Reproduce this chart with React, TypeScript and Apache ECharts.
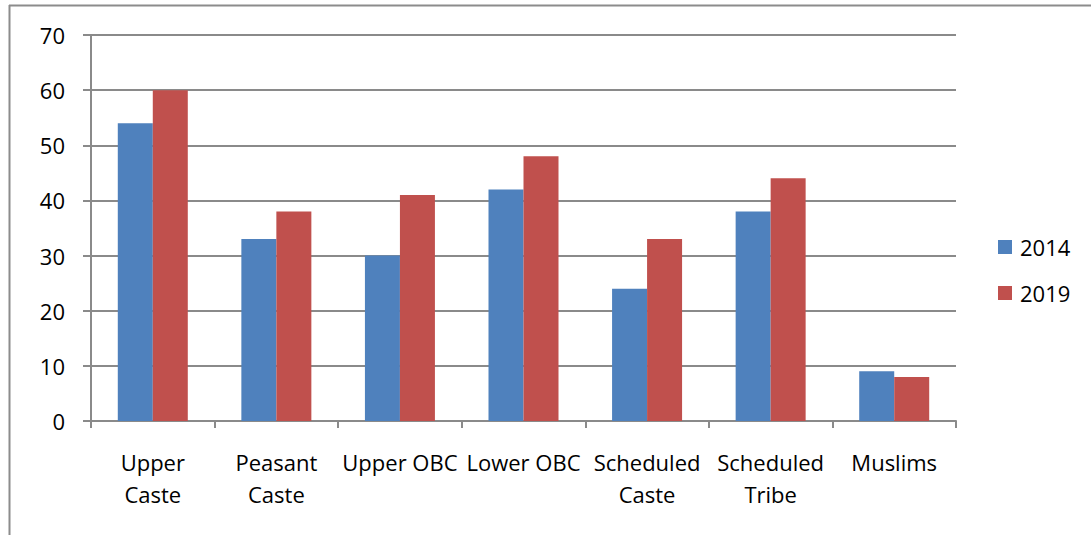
import React, { useEffect, useRef } from "react";
import * as echarts from "echarts";

const categories = ["Upper\nCaste", "Peasant\nCaste", "Upper OBC", "Lower OBC", "Scheduled\nCaste", "Scheduled\nTribe", "Muslims"];
const values2014 = [54, 33, 30, 42, 24, 38, 9];
const values2019 = [60, 38, 41, 48, 33, 44, 8];
const seriesNames = ["2014", "2019"];

const FONT = "'Open Sans', Lato, sans-serif";

export default function App() {
  const ref = useRef<HTMLDivElement>(null);
  useEffect(() => {
    if (!ref.current) return;
    const chart = echarts.init(ref.current, undefined, { renderer: "svg" });
    chart.setOption({
      animation: false,
      backgroundColor: "#ffffff",
      grid: { left: 91, top: 35, width: 865, height: 386, containLabel: false },
      legend: {
        orient: "vertical",
        left: 993,
        top: 231,
        itemWidth: 14,
        itemHeight: 14,
        itemGap: 24,
        icon: "rect",
        textStyle: { fontFamily: FONT, fontSize: 22, color: "#000", padding: [0, 0, 0, 3] },
        data: seriesNames,
      },
      xAxis: {
        type: "category",
        data: categories,
        axisLine: { lineStyle: { color: "#8a8a8a", width: 2 } },
        axisTick: { show: true, length: 7, lineStyle: { color: "#8a8a8a", width: 2 } },
        axisLabel: { fontFamily: FONT, fontSize: 22, color: "#000", margin: 25, lineHeight: 32, interval: 0 },
      },
      yAxis: {
        type: "value",
        min: 0,
        max: 70,
        interval: 10,
        axisLine: { show: true, lineStyle: { color: "#8a8a8a", width: 2 } },
        axisTick: { show: true, length: 8, lineStyle: { color: "#8a8a8a", width: 2 } },
        splitLine: { show: true, lineStyle: { color: "#8a8a8a", width: 2 } },
        axisLabel: { fontFamily: FONT, fontSize: 22, color: "#000", margin: 26 },
      },
      series: [
        { name: seriesNames[0], type: "bar", data: values2014, barWidth: 35, barGap: "0%", itemStyle: { color: "#4F81BD" } },
        { name: seriesNames[1], type: "bar", data: values2019, barWidth: 35, barGap: "0%", itemStyle: { color: "#C0504D" } },
      ],
      graphic: [
        { type: "line", shape: { x1: 9.5, y1: 5, x2: 9.5, y2: 535 }, style: { stroke: "#8c8c8c", lineWidth: 2 } },
        { type: "line", shape: { x1: 9, y1: 5.5, x2: 1091, y2: 5.5 }, style: { stroke: "#8c8c8c", lineWidth: 2 } },
      ],
    });
    return () => chart.dispose();
  }, []);
  return <div ref={ref} style={{ position: "absolute", left: 0, top: 0, width: 1091, height: 535 }} />;
}
